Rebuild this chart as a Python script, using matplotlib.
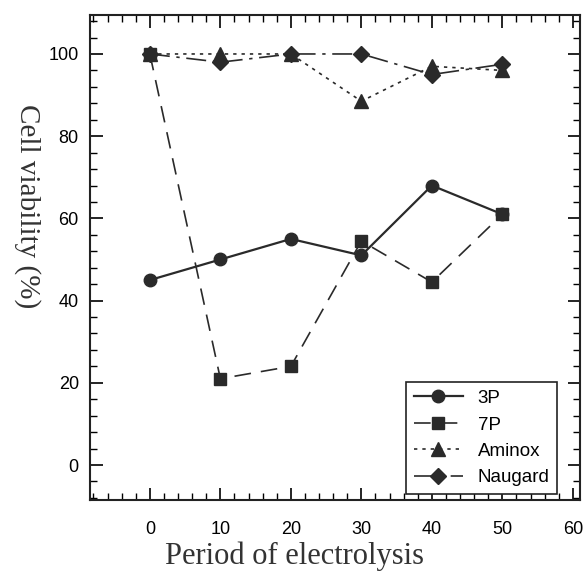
import matplotlib
matplotlib.use("Agg")
import matplotlib.pyplot as plt
from matplotlib.ticker import MultipleLocator

# period of electrolysis
period = [0, 10, 20, 30, 40, 50]

# cell viability (%)
p3 = [45, 50, 55, 51, 68, 61]
p7 = [100, 21, 24, 54.5, 44.5, 61]
aminox = [100, 100, 100, 88.5, 97, 96]
naugard = [100, 98, 100, 100, 95, 97.5]

labels = ["3P", "7P", "Aminox", "Naugard"]

fig = plt.figure(figsize=(5.84, 5.74), dpi=100)
ax = fig.add_axes([0.154, 0.129, 0.839, 0.845])

c = "#2a2a2a"
ax.plot(period, p3, color=c, lw=1.6, ls="-", marker="o", ms=9, label=labels[0])
ax.plot(period, p7, color=c, lw=1.2, ls=(0, (10, 6)), marker="s", ms=8, label=labels[1])
ax.plot(period, aminox, color=c, lw=1.2, ls=(0, (2, 3)), marker="^", ms=10, label=labels[2])
ax.plot(period, naugard, color=c, lw=1.2, ls=(0, (12, 4, 2, 4)), marker="D", ms=8, label=labels[3])

ax.set_xlim(-8.5, 61)
ax.set_ylim(-8.5, 109.5)
ax.set_xticks([0, 10, 20, 30, 40, 50, 60])
ax.set_yticks([0, 20, 40, 60, 80, 100])
ax.xaxis.set_minor_locator(MultipleLocator(2))
ax.yaxis.set_minor_locator(MultipleLocator(4))
ax.tick_params(which="both", direction="in", top=True, right=True, labelsize=13)
ax.tick_params(axis="x", pad=15)
ax.tick_params(axis="y", pad=8)
ax.tick_params(which="major", length=9, width=1.2)
ax.tick_params(which="minor", length=5, width=1.0)
for tl in ax.get_xticklabels() + ax.get_yticklabels():
    tl.set_family(["Liberation Sans", "DejaVu Sans"])
for s in ax.spines.values():
    s.set_linewidth(1.5)
    s.set_color("#222222")

ax.set_xlabel("Period of electrolysis", family="Liberation Serif", fontsize=22, color="#333333")
ax.xaxis.set_label_coords(0.418, -0.085)
ax.set_ylabel("Cell viability (%)", family="Liberation Serif", fontsize=21, color="#333333",
              rotation=270, va="center")
ax.yaxis.set_label_coords(-0.127, 0.606)

leg = ax.legend(loc="lower right", bbox_to_anchor=(557 / 584, 80 / 574), bbox_transform=fig.transFigure,
                borderaxespad=0, fancybox=False, edgecolor="#222222", framealpha=1,
                prop={"family": "Liberation Sans", "size": 13.5}, handlelength=2.6)
leg.get_frame().set_linewidth(1.2)

fig.savefig("out.png", dpi=100)
